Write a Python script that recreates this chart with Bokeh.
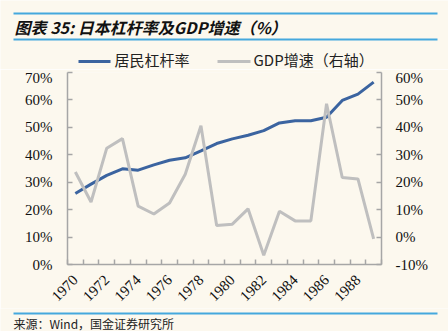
import math
from bokeh.plotting import figure
from bokeh.models import Range1d, LinearAxis, FixedTicker, PrintfTickFormatter
from bokeh.layouts import column
from bokeh.core.properties import value
from bokeh.embed import file_html
from bokeh.resources import INLINE

# ---- data ----
years = list(range(1970, 1990))
leverage = [25.9, 29.3, 32.5, 34.9, 34.4, 36.3, 38.0, 38.9, 41.4, 44.1,
            45.8, 47.1, 48.8, 51.6, 52.4, 52.4, 53.7, 59.8, 62.1, 66.5]
gdp_growth = [23.7, 12.8, 32.4, 35.9, 11.3, 8.4, 12.4, 22.9, 40.6, 4.2,
              4.7, 10.3, -6.6, 9.4, 5.9, 5.9, 48.6, 21.7, 21.2, -0.7]
label_years = years[::2]
left_ticks = [0, 10, 20, 30, 40, 50, 60, 70]
right_ticks = [-10, 0, 10, 20, 30, 40, 50, 60]
title_text = "图表 35: 日本杠杆率及GDP增速（%）"
source_text = "来源：Wind，国金证券研究所"
legend_labels = ["居民杠杆率", "GDP增速（右轴）"]

# ---- styles ----
BG = "#FCF8EE"
BLUE = "#3B64A0"
GRAY = "#BFBFBF"
RULE = "#45A8DD"
AXIS = "#A6A6A6"
SERIF = "Liberation Serif"
CJK = "Noto Sans CJK SC"

W = 448
HEAD_H = 69

# ---- header (title + legend keys) ----
head = figure(width=W, height=HEAD_H, x_range=Range1d(0, W), y_range=Range1d(HEAD_H, 0),
              x_axis_type=None, y_axis_type=None, output_backend="svg",
              toolbar_location=None, min_border=0, outline_line_color=None,
              background_fill_color=BG, border_fill_color=BG, frame_align=False)
head.grid.visible = False
head.segment(x0=[13, 13], y0=[13, 39], x1=[437, 437], y1=[13, 39],
             line_color=RULE, line_width=2)
head.text(x=[14], y=[26.5], text=[title_text], text_font=value(CJK),
          text_font_size="16px", text_font_style="bold italic",
          text_baseline="middle", text_color="#111111")
# legend: key lines + labels
head.segment(x0=[78, 217], y0=[61, 61], x1=[110, 250], y1=[61, 61],
             line_color=[BLUE, GRAY], line_width=3)
head.text(x=[114, 253], y=[59, 59], text=legend_labels, text_font=value(CJK),
          text_font_size="15px", text_baseline="middle", text_color="#222222")

# ---- main chart ----
p = figure(width=W, height=239, x_range=Range1d(years[0] - 0.5, years[-1] + 0.5),
           y_range=Range1d(left_ticks[0], left_ticks[-1]), output_backend="svg",
           toolbar_location=None, min_border_left=67, min_border_right=67,
           min_border_top=3, min_border_bottom=43, outline_line_color=None,
           background_fill_color=BG, border_fill_color=BG, frame_align=False)
p.grid.visible = False
p.extra_y_ranges = {"right": Range1d(right_ticks[0], right_ticks[-1])}

p.line(years, leverage, line_color=BLUE, line_width=3)
p.line(years, gdp_growth, line_color=GRAY, line_width=3, y_range_name="right")

xa = p.xaxis[0]
xa.ticker = FixedTicker(ticks=label_years,
                        minor_ticks=[y - 0.5 for y in years] + [years[-1] + 0.5])
xa.formatter = PrintfTickFormatter(format="%d")
xa.major_tick_in = 0
xa.major_tick_out = 0
xa.minor_tick_in = 5
xa.minor_tick_out = 0
xa.minor_tick_line_color = AXIS
xa.minor_tick_line_width = 1.5
xa.major_label_orientation = math.pi / 4
xa.major_label_standoff = 13

ya = p.yaxis[0]
ya.ticker = FixedTicker(ticks=left_ticks)
ya.formatter = PrintfTickFormatter(format="%d%%")

yr = LinearAxis(y_range_name="right", ticker=FixedTicker(ticks=right_ticks),
                formatter=PrintfTickFormatter(format="%d%%"))
p.add_layout(yr, "right")

for ax in [xa, ya, yr]:
    ax.axis_line_color = AXIS
    ax.axis_line_width = 1.5
    ax.major_tick_line_color = AXIS
    ax.major_tick_line_width = 1.5
    ax.major_label_text_font = SERIF
    ax.major_label_text_color = "#111111"
for ax in [ya, yr]:
    ax.major_tick_in = 5
    ax.major_tick_out = 0
    ax.minor_tick_line_color = None
    ax.major_label_text_font_size = "15px"
ya.major_label_standoff = 15
yr.major_label_standoff = 14
xa.major_label_text_font_size = "15px"

# ---- footer ----
foot = figure(width=W, height=23, x_range=Range1d(0, W), y_range=Range1d(23, 0),
              x_axis_type=None, y_axis_type=None, output_backend="svg",
              toolbar_location=None, min_border=0, outline_line_color=None,
              background_fill_color=BG, border_fill_color=BG, frame_align=False)
foot.grid.visible = False
foot.segment(x0=[13], y0=[5], x1=[437], y1=[5], line_color=RULE, line_width=2)
foot.text(x=[13], y=[15], text=[source_text], text_font=value(CJK),
          text_font_size="12px", text_baseline="middle", text_color="#222222")

layout = column(head, p, foot, spacing=0)
open("out.html", "w").write(file_html(layout, INLINE))
